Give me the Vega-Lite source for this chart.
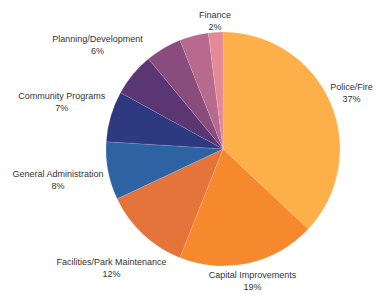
{
  "$schema": "https://vega.github.io/schema/vega-lite/v6.json",
  "width": 300,
  "height": 298,
  "autosize": {"type": "none"},
  "padding": {"left": 73, "top": 0, "right": 3, "bottom": 0},
  "background": "#ffffff",
  "config": {"view": {"stroke": null}},
  "data": {
    "values": [
      {"category": "Police/Fire", "pct": 37, "label": "Police/Fire\n37%"},
      {"category": "Capital Improvements", "pct": 19, "label": "Capital Improvements\n19%"},
      {"category": "Facilities/Park Maintenance", "pct": 12, "label": "Facilities/Park Maintenance\n12%"},
      {"category": "General Administration", "pct": 8, "label": "General Administration\n8%"},
      {"category": "Community Programs", "pct": 7, "label": "Community Programs\n7%"},
      {"category": "Planning/Development", "pct": 6, "label": "Planning/Development\n6%"},
      {"category": "Other A", "pct": 5, "label": ""},
      {"category": "Other B", "pct": 4, "label": ""},
      {"category": "Finance", "pct": 2, "label": "Finance\n2%"}
    ]
  },
  "encoding": {
    "theta": {"field": "pct", "type": "quantitative", "stack": true},
    "order": {"field": "pct", "type": "quantitative", "sort": "descending"}
  },
  "layer": [
    {
      "mark": {"type": "arc", "outerRadius": 117, "stroke": "#ffffff", "strokeWidth": 0.3, "strokeOpacity": 0.4},
      "encoding": {
        "color": {
          "field": "category",
          "type": "nominal",
          "legend": null,
          "scale": {
            "domain": ["Police/Fire", "Capital Improvements", "Facilities/Park Maintenance", "General Administration", "Community Programs", "Planning/Development", "Other A", "Other B", "Finance"],
            "range": ["#FDB04A", "#F6892E", "#E4743A", "#2E63A3", "#2D3A80", "#5A3673", "#8A4B7D", "#B76A8D", "#E38A96"]
          }
        }
      }
    },
    {
      "mark": {"type": "text", "radius": 128, "dy": -6, "font": "Liberation Sans", "fontSize": 9, "color": "#333333", "align": "center", "baseline": "middle", "lineBreak": "\n", "lineHeight": 12},
      "encoding": {
        "text": {"condition": {"test": "datum.category === 'Finance'", "field": "label"}, "value": ""}
      }
    },
    {
      "mark": {"type": "text", "radius": 140, "dy": -6, "font": "Liberation Sans", "fontSize": 9, "color": "#333333", "align": "center", "baseline": "middle", "lineBreak": "\n", "lineHeight": 12},
      "encoding": {
        "text": {"condition": {"test": "datum.category === 'Police/Fire'", "field": "label"}, "value": ""}
      }
    },
    {
      "mark": {"type": "text", "radius": 135, "dy": -6, "font": "Liberation Sans", "fontSize": 9, "color": "#333333", "align": "center", "baseline": "middle", "lineBreak": "\n", "lineHeight": 12},
      "encoding": {
        "text": {"condition": {"test": "datum.category === 'Capital Improvements'", "field": "label"}, "value": ""}
      }
    },
    {
      "mark": {"type": "text", "radius": 163, "dy": -6, "font": "Liberation Sans", "fontSize": 9, "color": "#333333", "align": "center", "baseline": "middle", "lineBreak": "\n", "lineHeight": 12},
      "encoding": {
        "text": {"condition": {"test": "datum.category === 'Planning/Development' || datum.category === 'Facilities/Park Maintenance'", "field": "label"}, "value": ""}
      }
    },
    {
      "mark": {"type": "text", "radius": 168, "dy": -6, "font": "Liberation Sans", "fontSize": 9, "color": "#333333", "align": "center", "baseline": "middle", "lineBreak": "\n", "lineHeight": 12},
      "encoding": {
        "text": {"condition": {"test": "datum.category === 'Community Programs' || datum.category === 'General Administration'", "field": "label"}, "value": ""}
      }
    }
  ]
}
